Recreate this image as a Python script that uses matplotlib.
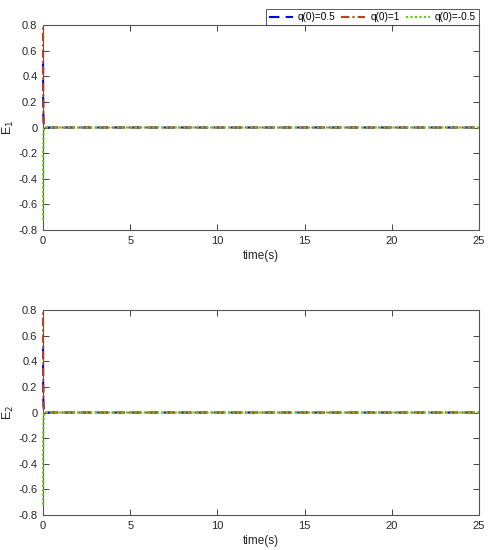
import matplotlib
matplotlib.use("Agg")
import matplotlib.pyplot as plt
from matplotlib.transforms import Bbox, TransformedBbox

# data
t = [0.0, 0.003, 0.01, 0.03, 0.06, 0.12, 25.0]
e1_q05 = [0.5, 0.35, 0.15, 0.05, 0.01, 0.0, 0.0]
e1_q1 = [1.0, 0.7, 0.3, 0.1, 0.02, 0.0, 0.0]
e1_qm05 = [-0.72, -0.5, -0.2, -0.06, -0.01, 0.0, 0.0]
e2_q05 = [0.5, 0.35, 0.15, 0.05, 0.01, 0.0, 0.0]
e2_q1 = [1.0, 0.7, 0.3, 0.1, 0.02, 0.0, 0.0]
e2_qm05 = [-0.72, -0.5, -0.2, -0.06, -0.01, 0.0, 0.0]
labels = ["q(0)=0.5", "q(0)=1", "q(0)=-0.5"]
ylabels = ["E$_1$", "E$_2$"]
xticks = [0, 5, 10, 15, 20, 25]
yticks = [-0.8, -0.6, -0.4, -0.2, 0, 0.2, 0.4, 0.6, 0.8]

plt.rcParams['font.family'] = ['Liberation Sans', 'DejaVu Sans']
fig = plt.figure(figsize=(4.92, 5.5), dpi=100)
positions = [[0.0874, 0.5818, 0.886, 0.3727], [0.0874, 0.0636, 0.886, 0.3727]]
series = [(e1_q05, e1_q1, e1_qm05), (e2_q05, e2_q1, e2_qm05)]
styles = [dict(color='#0000ee', ls=(0, (5, 3)), lw=1.5),
          dict(color='#b5441e', ls=(0, (4, 1.5, 1, 1.5)), lw=1.5),
          dict(color='#66cc11', ls=(0, (1, 1)), lw=1.6)]

for i, (pos, ser) in enumerate(zip(positions, series)):
    ax = fig.add_axes(pos)
    clip = TransformedBbox(Bbox([[-0.006, 0.0], [1.0, 1.0]]), ax.transAxes)
    handles = []
    for y, st, lab in zip(ser, styles, labels):
        h, = ax.plot(t, y, label=lab, zorder=3, **st)
        h.set_clip_box(clip)
        handles.append(h)
    ax.set_xlim(0, 25)
    ax.set_ylim(-0.8, 0.8)
    ax.set_xticks(xticks)
    ax.set_yticks(yticks)
    ax.set_yticklabels([('%g' % v) for v in yticks])
    ax.tick_params(direction='in', top=True, right=True, labelsize=8,
                   colors='#262626', length=4, width=0.6, pad=4)
    for s in ax.spines.values():
        s.set_color('#555555')
        s.set_linewidth(0.8)
        s.set_zorder(2)
    ax.set_xlabel('time(s)', fontsize=8.5, color='#262626', labelpad=3)
    ax.set_ylabel(ylabels[i], fontsize=9, color='#262626')
    ax.yaxis.set_label_coords(-0.062, 0.5)
    if i == 0:
        leg = ax.legend(handles=handles, loc='lower right', bbox_to_anchor=(1.0, 1.0),
                        ncol=3, fontsize=7.2, frameon=True, fancybox=False,
                        edgecolor='#333333', handlelength=2.4, columnspacing=0.6,
                        handletextpad=0.5, borderpad=0.3, borderaxespad=0.0)
        leg.get_frame().set_linewidth(0.7)
        leg.set_zorder(5)

fig.savefig('out.png', dpi=100)
